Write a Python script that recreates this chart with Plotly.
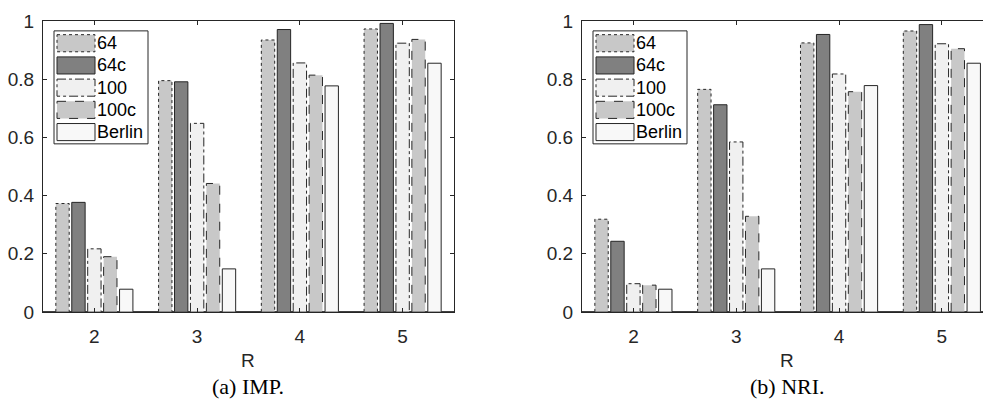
import plotly.graph_objects as go

# Ratio values per R, for the two metrics
R = [2, 3, 4, 5]
series_names = ["64", "64c", "100", "100c", "Berlin"]

imp_64 = [0.373, 0.796, 0.936, 0.974]
imp_64c = [0.377, 0.792, 0.972, 0.993]
imp_100 = [0.217, 0.649, 0.857, 0.925]
imp_100c = [0.190, 0.442, 0.815, 0.938]
imp_berlin = [0.078, 0.148, 0.778, 0.856]

nri_64 = [0.319, 0.766, 0.926, 0.967]
nri_64c = [0.243, 0.713, 0.955, 0.989]
nri_100 = [0.097, 0.585, 0.819, 0.923]
nri_100c = [0.092, 0.329, 0.758, 0.906]
nri_berlin = [0.078, 0.148, 0.779, 0.856]

y_ticks = [0, 0.2, 0.4, 0.6, 0.8, 1]
y_tick_text = ["0", "0.2", "0.4", "0.6", "0.8", "1"]

imp_values = [imp_64, imp_64c, imp_100, imp_100c, imp_berlin]
nri_values = [nri_64, nri_64c, nri_100, nri_100c, nri_berlin]

# Per-series styling: fill colour and outline dash
fills = ["#c8c8c8", "#808080", "#f0f0f0", "#c8c8c8", "#f8f8f8"]
dashes = ["dot", "solid", "dashdot", "dash", "solid"]
edge = "#262626"

W, H = 983, 414
px = lambda x: x / W
py = lambda y: 1 - y / H

pitch = 0.155   # distance between neighbouring bars within a group
bw = 0.13       # bar width

fig = go.Figure()


def add_panel(values, xa, ya):
    for i, vals in enumerate(values):
        off = (i - 2) * pitch
        fig.add_trace(go.Bar(
            x=R, y=vals, width=bw, offset=off - bw / 2,
            marker=dict(color=fills[i], line=dict(width=0)),
            xaxis=xa, yaxis=ya, showlegend=False, hoverinfo="skip",
        ))
        # outline drawn as a path so that it can carry a dash pattern
        xs, ys = [], []
        for c, v in zip(R, vals):
            x0 = c + off - bw / 2
            x1 = c + off + bw / 2
            xs += [x0, x0, x1, x1, None]
            ys += [0, v, v, 0, None]
        fig.add_trace(go.Scatter(
            x=xs, y=ys, mode="lines",
            line=dict(color=edge, width=1, dash=dashes[i]),
            xaxis=xa, yaxis=ya, showlegend=False, hoverinfo="skip",
        ))


add_panel(imp_values, "x", "y")
add_panel(nri_values, "x2", "y2")

sans = "Liberation Sans, Arial, sans-serif"
tick_font = dict(family=sans, size=19, color="#262626")
common_x = dict(
    tickmode="array", tickvals=R, ticktext=[str(r) for r in R],
    ticks="inside", ticklen=4, tickcolor=edge, showline=True, linecolor=edge,
    linewidth=1, mirror="ticks", showgrid=False, zeroline=False,
    tickfont=tick_font, ticklabelstandoff=7,
)
common_y = dict(
    range=[0, 1], tickmode="array", tickvals=y_ticks, ticktext=y_tick_text,
    ticks="inside", ticklen=4, tickcolor=edge, showline=True, linecolor=edge,
    linewidth=1, showgrid=False, zeroline=True, zerolinecolor="#404040",
    zerolinewidth=2, tickfont=tick_font, ticklabelstandoff=4,
)

y_dom = [py(318), py(12)]
fig.update_layout(
    width=W, height=H,
    margin=dict(l=0, r=0, t=0, b=0),
    paper_bgcolor="white", plot_bgcolor="white",
    barmode="overlay",
    showlegend=False,
    xaxis=dict(domain=[px(43), px(454)], range=[1.5, 5.5], anchor="y", **common_x),
    yaxis=dict(domain=y_dom, anchor="x", mirror="ticks", **common_y),
    xaxis2=dict(domain=[px(582), 1.0], range=[1.5, 5.4], anchor="y2", **common_x),
    yaxis2=dict(domain=y_dom, anchor="x2", mirror=False, **common_y),
)

shapes = []
annotations = []


def add_legend(x0, y0):
    # outer box
    shapes.append(dict(type="rect", xref="paper", yref="paper",
                       x0=px(x0), x1=px(x0 + 94), y0=py(y0), y1=py(y0 + 119),
                       line=dict(color=edge, width=1), fillcolor="white", layer="above"))
    for i, name in enumerate(series_names):
        top = y0 + 4 + i * 23.4
        shapes.append(dict(type="rect", xref="paper", yref="paper",
                           x0=px(x0 + 3), x1=px(x0 + 41), y0=py(top), y1=py(top + 18),
                           line=dict(color=edge, width=1, dash=dashes[i]),
                           fillcolor=fills[i], layer="above"))
        annotations.append(dict(text=name, xref="paper", yref="paper",
                                x=px(x0 + 41), y=py(top + 9), xanchor="left", yanchor="middle",
                                showarrow=False,
                                font=dict(family=sans, size=18, color="#000000")))


add_legend(54, 22)
add_legend(593, 22)

label_font = dict(family=sans, size=19, color="#262626")
cap_font = dict(family="Liberation Serif, Times New Roman, serif", size=22, color="#000000")
for cx, cap in [(248, "(a) IMP."), (787, "(b) NRI.")]:
    annotations.append(dict(text="R", xref="paper", yref="paper", x=px(cx), y=py(369),
                            xanchor="center", yanchor="middle", showarrow=False, font=label_font))
    annotations.append(dict(text=cap, xref="paper", yref="paper", x=px(cx), y=py(397),
                            xanchor="center", yanchor="middle", showarrow=False, font=cap_font))

fig.update_layout(shapes=shapes, annotations=annotations)

fig.write_html("out.html")
